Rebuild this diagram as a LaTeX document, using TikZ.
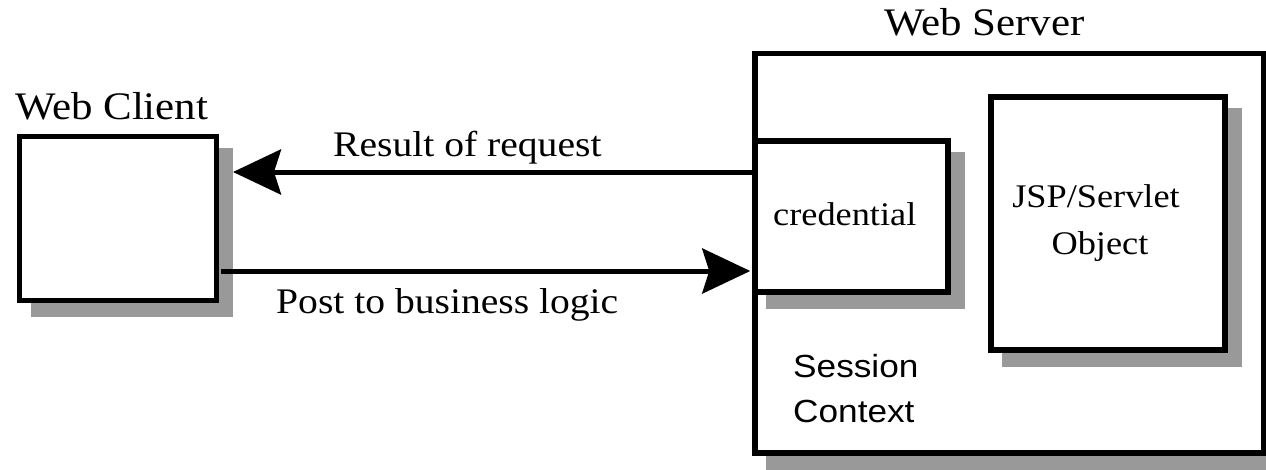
\documentclass[tikz,border=0pt]{standalone}
\usepackage{fontspec}
\setmainfont{Liberation Serif}[FakeStretch=1.1]
\newfontfamily\sansf{Liberation Sans}[FakeStretch=1.1]
\usetikzlibrary{arrows.meta}
\pgfdeclarelayer{lshA}
\pgfdeclarelayer{lboxA}
\pgfdeclarelayer{lshB}
\pgfsetlayers{lshA,lboxA,lshB,main}
\begin{document}
\begin{tikzpicture}[x=1pt,y=-1pt,
  box/.style={draw=black, fill=white, line width=5.5pt, inner sep=0pt, outer sep=2.75pt, rectangle},
  shadowc/.style={fill=black!40},
  arr/.style={line width=5pt, -{Stealth[length=48pt,width=45pt,inset=7pt]}},
  txt/.style={inner sep=0pt, anchor=base west},
  bigf/.style={font=\fontsize{39}{44}\selectfont},
  midf/.style={font=\fontsize{36}{40}\selectfont},
  smf/.style={font=\fontsize{33}{38}\selectfont},
  sansl/.style={font=\sansf\fontsize{32}{36}\selectfont}
]
\useasboundingbox (0,0) rectangle (1266,469);

% Web client
\node[box, minimum width=197pt, minimum height=164pt] (cli) at (118,218.5) {};
\begin{pgfonlayer}{lshB}
  \fill[shadowc] ([shift={(14,14)}]cli.north west) rectangle ([shift={(14,14)}]cli.south east);
\end{pgfonlayer}
\node[txt, bigf] (clit) at (15,119) {Web Client};

% Web server
\begin{pgfonlayer}{lboxA}
  \node[box, minimum width=508.5pt, minimum height=399.5pt] (srv) at (1009.25,253.25) {};
\end{pgfonlayer}
\begin{pgfonlayer}{lshA}
  \fill[shadowc] ([shift={(14,14)}]srv.north west) rectangle ([shift={(14,14)}]srv.south east);
\end{pgfonlayer}
\node[txt, bigf] (srvt) at (884,35) {Web Server};

% credential
\node[box, minimum width=193pt, minimum height=151pt] (cred) at (851.5,216.5) {};
\begin{pgfonlayer}{lshB}
  \fill[shadowc] ([shift={(14,14)}]cred.north west) rectangle ([shift={(14,14)}]cred.south east);
\end{pgfonlayer}
\node[txt, smf] (credt) at (773,225) {credential};

% JSP/Servlet object
\node[box, minimum width=234pt, minimum height=253pt] (jsp) at (1108,223.5) {};
\begin{pgfonlayer}{lshB}
  \fill[shadowc] ([shift={(14,14)}]jsp.north west) rectangle ([shift={(14,14)}]jsp.south east);
\end{pgfonlayer}
\node[inner sep=0pt, anchor=base, smf] (jspa) at (1096,207) {JSP/Servlet};
\node[inner sep=0pt, anchor=base, smf] (jspb) at (1100,254) {Object};

% Session context
\node[txt, sansl] (sesa) at (793,377) {Session};
\node[txt, sansl] (sesb) at (793,422) {Context};

% arrows
\draw[arr, shorten >=13.75pt] (cred.west |- 0,172) -- (cli.east |- 0,172);
\draw[arr, shorten <=2pt, shorten >=2pt] (cli.east |- 0,271) -- (cred.west |- 0,271);
\node[txt, midf] (rest) at (333,156) {Result of request};
\node[txt, midf] (postt) at (276,313) {Post to business logic};
\end{tikzpicture}
\end{document}
